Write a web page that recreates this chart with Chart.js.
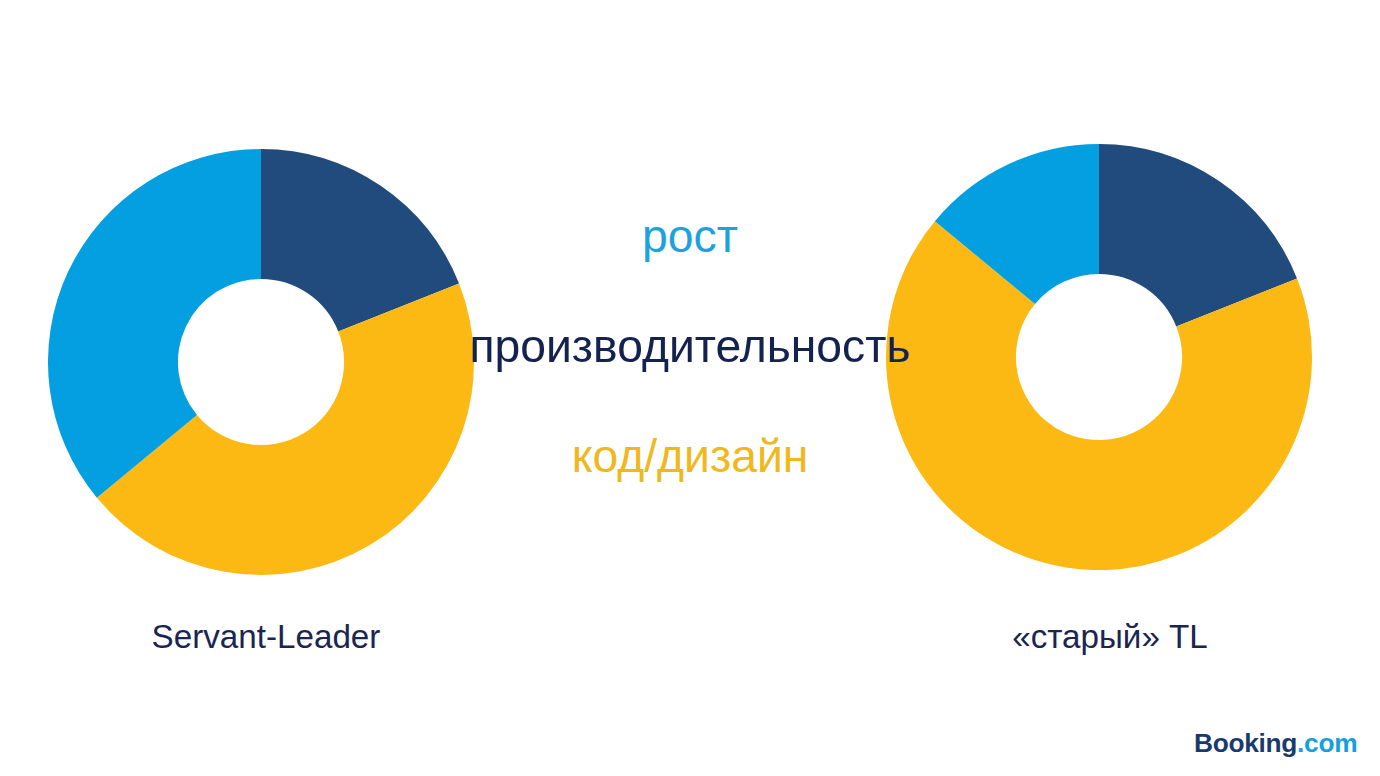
<!DOCTYPE html>
<html>
<head>
<meta charset="utf-8">
<script src="https://cdn.jsdelivr.net/npm/chart.js@4.4.1/dist/chart.umd.min.js"></script>
<style>
  html, body { margin:0; padding:0; background:#fff; }
  body { width:1380px; height:776px; position:relative; overflow:hidden; font-family:"Liberation Sans", Arial, sans-serif; }
  .cv { position:absolute; width:426px; height:426px; }
  .txt { position:absolute; white-space:nowrap; transform:translateX(-50%); line-height:1; }
  .legend { font-size:46.3px; }
  .lbl { font-size:33.2px; color:#1b2552; }
  .logo { position:absolute; left:1194px; top:730px; font-size:26.3px; font-weight:bold; letter-spacing:-0.3px; line-height:1; }
</style>
</head>
<body>
<div class="cv" style="left:47.5px;top:149px;"><canvas id="c1"></canvas></div>
<div class="cv" style="left:885.7px;top:144px;"><canvas id="c2"></canvas></div>
<div id="legendBox"></div>
<div class="txt lbl" id="t1" style="left:266px;top:620px;"></div>
<div class="txt lbl" id="t2" style="left:1110px;top:620px;"></div>
<div class="logo"><span style="color:#1a3a6e">Booking</span><span style="color:#12a0e0">.com</span></div>
<script>
const categories = ['производительность', 'код/дизайн', 'рост'];
const chartTitles = ['Servant-Leader', '«старый» TL'];
const servantLeader = [19, 45, 36];
const oldTL = [19, 67, 14];
const sliceColors = ['#214a7d', '#fdb913', '#039fe1'];
const textColors = ['#13224f', '#f0b81c', '#1ca3dd'];

// legend in the middle: order top to bottom
const legendOrder = [2, 0, 1];
const legendTops = [213, 323, 433];
const box = document.getElementById('legendBox');
legendOrder.forEach((ci, i) => {
  const d = document.createElement('div');
  d.className = 'txt legend';
  d.style.left = '690px';
  d.style.top = legendTops[i] + 'px';
  d.style.color = textColors[ci];
  d.textContent = categories[ci];
  box.appendChild(d);
});
document.getElementById('t1').textContent = chartTitles[0];
document.getElementById('t2').textContent = chartTitles[1];

function makeChart(id, values) {
  return new Chart(document.getElementById(id), {
    type: 'doughnut',
    data: {
      labels: categories,
      datasets: [{ data: values, backgroundColor: sliceColors, borderWidth: 0, hoverOffset: 0, offset: 0 }]
    },
    options: {
      responsive: true,
      maintainAspectRatio: false,
      animation: false,
      cutout: '39%',
      layout: { padding: 0 },
      plugins: { legend: { display: false }, tooltip: { enabled: false } },
      events: []
    }
  });
}
makeChart('c1', servantLeader);
makeChart('c2', oldTL);
</script>
</body>
</html>
